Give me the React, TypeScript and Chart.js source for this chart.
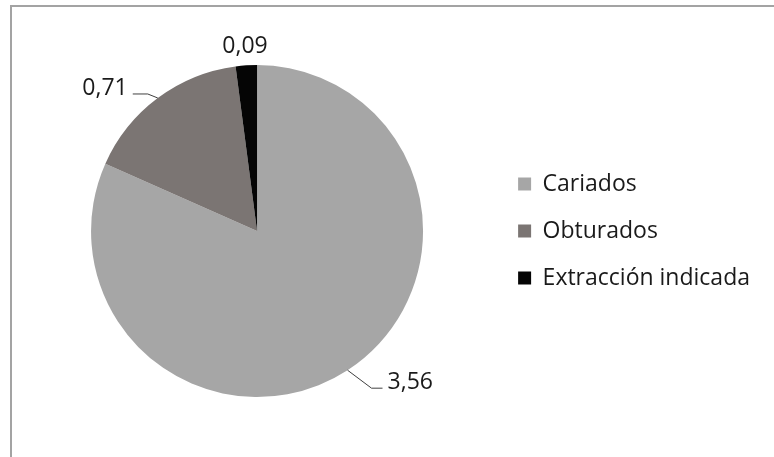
import React, { useEffect, useRef } from "react";
import { Chart, registerables } from "chart.js";

Chart.register(...registerables);

// ---- data ----
const categories = ["Cariados", "Obturados", "Extracción indicada"];
const values = [3.56, 0.71, 0.09];
const sliceColors = ["#a6a6a6", "#7b7573", "#050505"];

const FONT = "'Open Sans', 'DejaVu Sans', sans-serif";
const TEXT_COLOR = "#1a1a1a";

// style of the value labels (offsets relative to each slice's outer edge mid-point)
const labelStyles: any[] = [
  { elbow: [24, 18], tail: 11, align: "left", dy: -6 },
  { elbow: [-10, -4], tail: -15, align: "right", dy: -6 },
  { radial: 19 },
];

const fmt = (v: number) => v.toFixed(2).replace(".", ",");

const framePlugin = {
  id: "frame",
  beforeDraw(chart: any) {
    const { ctx, width, height } = chart;
    ctx.save();
    ctx.fillStyle = "#ffffff";
    ctx.fillRect(0, 0, width, height);
    ctx.strokeStyle = "#a3a3a3";
    ctx.lineWidth = 2;
    ctx.beginPath();
    ctx.moveTo(11, height);
    ctx.lineTo(11, 6);
    ctx.lineTo(width, 6);
    ctx.stroke();
    ctx.restore();
  },
};

const valueLabelPlugin = {
  id: "valueLabels",
  afterDatasetsDraw(chart: any) {
    const { ctx } = chart;
    const meta = chart.getDatasetMeta(0);
    ctx.save();
    ctx.font = `23px ${FONT}`;
    ctx.fillStyle = TEXT_COLOR;
    ctx.strokeStyle = "#404040";
    ctx.lineWidth = 1;
    meta.data.forEach((arc: any, i: number) => {
      const st = labelStyles[i];
      const text = fmt(values[i]);
      const mid = (arc.startAngle + arc.endAngle) / 2;
      const R = arc.outerRadius;
      const ex = arc.x + Math.cos(mid) * R;
      const ey = arc.y + Math.sin(mid) * R;
      if (st.radial !== undefined) {
        const r = R + st.radial;
        ctx.textAlign = "center";
        ctx.textBaseline = "middle";
        ctx.fillText(text, arc.x + Math.cos(mid) * r, arc.y + Math.sin(mid) * r);
        return;
      }
      const bx = ex + st.elbow[0];
      const by = ey + st.elbow[1];
      const tx = bx + st.tail;
      ctx.beginPath();
      ctx.moveTo(ex, ey);
      ctx.lineTo(bx, by);
      ctx.lineTo(tx, by);
      ctx.stroke();
      ctx.textBaseline = "middle";
      if (st.align === "left") {
        ctx.textAlign = "left";
        ctx.fillText(text, tx + 5, by + st.dy);
      } else {
        ctx.textAlign = "right";
        ctx.fillText(text, tx - 5, by + st.dy);
      }
    });
    ctx.restore();
  },
};

export default function App() {
  const ref = useRef<HTMLCanvasElement | null>(null);
  useEffect(() => {
    if (!ref.current) return;
    const chart = new Chart(ref.current, {
      type: "pie",
      data: {
        labels: categories,
        datasets: [
          {
            data: values,
            backgroundColor: sliceColors,
            borderWidth: 0,
            hoverOffset: 0,
            offset: 0,
          },
        ],
      },
      options: {
        animation: false,
        responsive: true,
        maintainAspectRatio: false,
        layout: { padding: { top: 65, bottom: 60, left: 20, right: 14 } },
        plugins: {
          tooltip: { enabled: false },
          legend: {
            position: "right",
            align: "center",
            labels: {
              boxWidth: 13,
              boxHeight: 13,
              padding: 24,
              color: TEXT_COLOR,
              font: { family: FONT, size: 23 },
            },
          },
        },
      },
      plugins: [framePlugin, valueLabelPlugin],
    });
    return () => chart.destroy();
  }, []);
  return (
    <div style={{ position: "fixed", left: 0, top: 0, width: 774, height: 457, background: "#fff" }}>
      <canvas ref={ref} />
    </div>
  );
}
